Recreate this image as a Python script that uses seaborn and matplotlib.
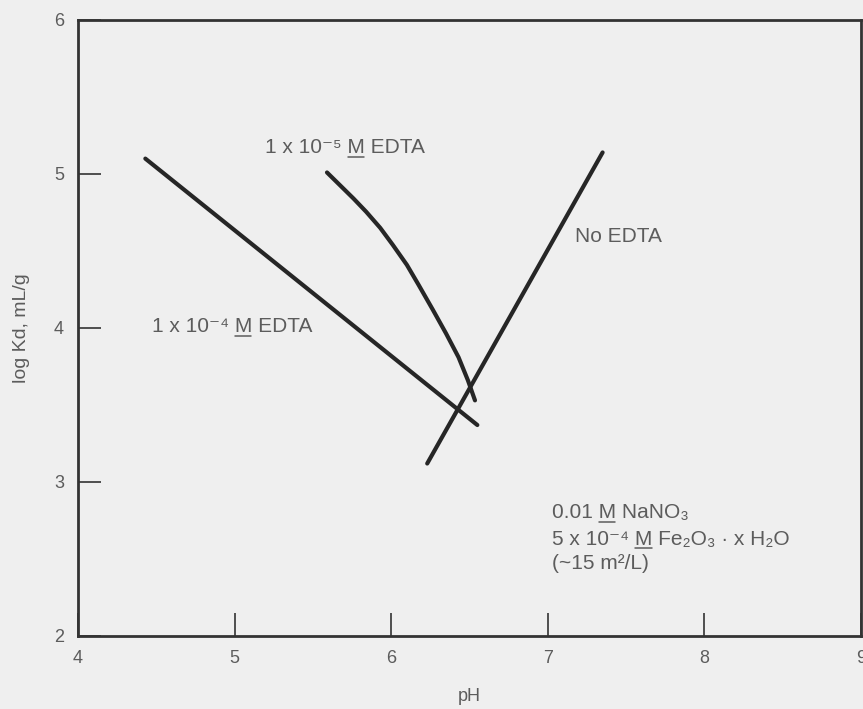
import matplotlib
matplotlib.use("Agg")
import matplotlib.pyplot as plt
from matplotlib.lines import Line2D
from matplotlib.transforms import IdentityTransform
import seaborn as sns
import pandas as pd

# Data
ph_1e4 = [4.43, 6.55]
logkd_1e4 = [5.10, 3.37]

ph_1e5 = [5.59, 5.67, 5.76, 5.84, 5.93, 6.01, 6.10, 6.175, 6.265, 6.35, 6.43, 6.49, 6.535]
logkd_1e5 = [5.01, 4.93, 4.84, 4.755, 4.65, 4.54, 4.41, 4.28, 4.12, 3.965, 3.81, 3.66, 3.53]

ph_none = [6.23, 7.35]
logkd_none = [3.12, 5.14]

x_ticks = [4, 5, 6, 7, 8, 9]
y_ticks = [2, 3, 4, 5, 6]

sns.set_style("ticks")
plt.rcParams['font.family'] = ['Liberation Sans', 'DejaVu Sans']

BG = '#efefef'
LINE = '#262626'
TXT = '#5c5c5c'
DPI = 100

fig = plt.figure(figsize=(8.63, 7.09), dpi=DPI, facecolor=BG)
ax = fig.add_axes([78/863, 1 - 636/709, (861 - 78)/863, (636 - 20)/709])
ax.set_facecolor(BG)

frames = [
    pd.DataFrame({'pH': ph_1e4, 'logKd': logkd_1e4, 'series': '1e-4'}),
    pd.DataFrame({'pH': ph_1e5, 'logKd': logkd_1e5, 'series': '1e-5'}),
    pd.DataFrame({'pH': ph_none, 'logKd': logkd_none, 'series': 'none'}),
]
for df in frames:
    sns.lineplot(data=df, x='pH', y='logKd', sort=False, color=LINE,
                 linewidth=3.0, ax=ax, legend=False,
                 solid_capstyle='round', solid_joinstyle='round')

ax.set_xlim(4, 9)
ax.set_ylim(2, 6)
ax.set_xticks(x_ticks)
ax.set_yticks(y_ticks)
ax.set_xticklabels([str(v) for v in x_ticks])
ax.set_yticklabels([str(v) for v in y_ticks])

for s in ax.spines.values():
    s.set_color('#333333')
    s.set_linewidth(2.0)

ax.tick_params(axis='both', direction='in', length=16.5, width=1.2, color='#333333',
               labelsize=13, labelcolor=TXT)
ax.tick_params(axis='x', pad=10)
ax.tick_params(axis='y', pad=10)

ax.set_xlabel('pH', fontsize=13, color=TXT, labelpad=15)
ax.set_ylabel('log Kd, mL/g', fontsize=14, color=TXT, labelpad=17)

fs = 15
kw = dict(fontsize=fs, color=TXT, va='baseline', ha='left')

fig.canvas.draw()
renderer = fig.canvas.get_renderer()


def label(x, y, pre, post, underline=True):
    ax.text(x, y, pre + ('M' if underline else '') + post, **kw)
    if not underline:
        return
    t1 = ax.text(x, y, pre + 'M', **kw)
    t2 = ax.text(x, y, 'M', **kw)
    b1 = t1.get_window_extent(renderer)
    b2 = t2.get_window_extent(renderer)
    t1.remove()
    t2.remove()
    x1 = b1.x1 - 0.5
    x0 = x1 - b2.width + 1.0
    yb = ax.transData.transform((x, y))[1] - 3.5
    fig.add_artist(Line2D([x0, x1], [yb, yb], transform=IdentityTransform(),
                          color=TXT, linewidth=1.1))


label(5.194, 5.136, '1 x 10\u207b\u2075 ', ' EDTA')
label(7.174, 4.558, 'No EDTA', '', underline=False)
label(4.47, 3.974, '1 x 10\u207b\u2074 ', ' EDTA')
label(7.025, 2.766, '0.01 ', ' NaNO\u2083')
label(7.025, 2.591, '5 x 10\u207b\u2074 ', ' Fe\u2082O\u2083 \u00b7 x H\u2082O')
label(7.025, 2.435, '(~15 m\u00b2/L)', '', underline=False)

fig.savefig('out.png', dpi=DPI, facecolor=BG)
